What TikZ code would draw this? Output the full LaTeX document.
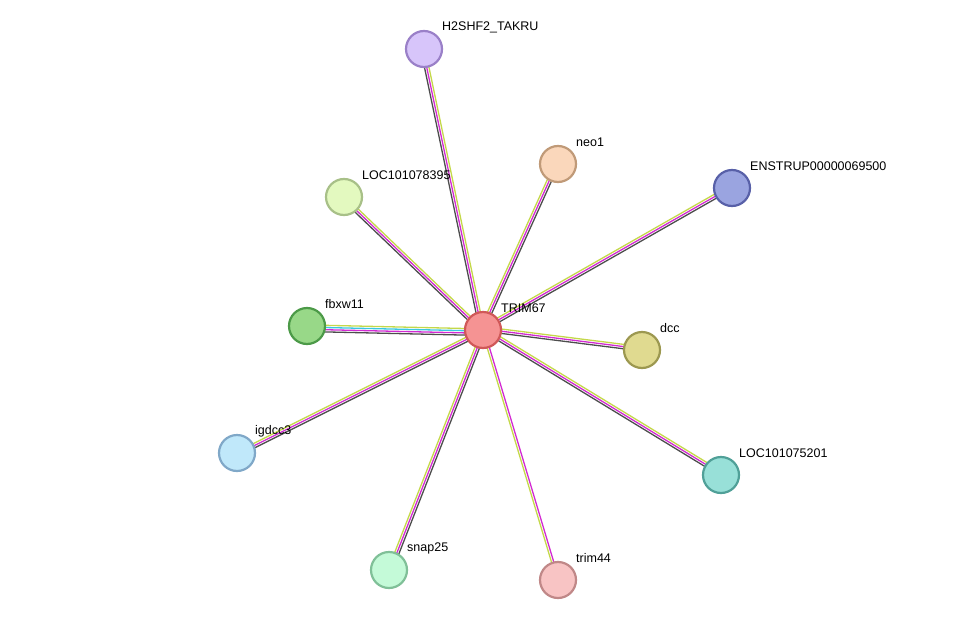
\documentclass[tikz,border=0pt]{standalone}
\usepackage{fontspec}
\setmainfont{Liberation Sans}
\usetikzlibrary{calc}
\definecolor{edark}{HTML}{4D4D4D}
\definecolor{emag}{HTML}{D22AD2}
\definecolor{egrn}{HTML}{C4D84A}
\definecolor{ecyan}{HTML}{38C8E0}
\tikzset{prot/.style={circle, minimum size=36pt, inner sep=0pt, line width=2.2pt},
  plabel/.style={anchor=west, font=\fontsize{12.5}{14}\selectfont, inner sep=0pt}}
\begin{document}
\begin{tikzpicture}[x=1pt,y=-1pt]
\useasboundingbox (0,0) rectangle (976,626);
% proteins
\coordinate (TRIM67) at (483,330);
\coordinate (H2SHF2) at (424,49);
\coordinate (neo1) at (558,164);
\coordinate (ENSTRUP) at (732,188);
\coordinate (LOC395) at (344,197);
\coordinate (fbxw11) at (307,326);
\coordinate (dcc) at (642,350);
\coordinate (igdcc3) at (237,453);
\coordinate (LOC201) at (721,475);
\coordinate (snap25) at (389,570);
\coordinate (trim44) at (558,580);
% evidence lines
\foreach \t/\cols in {H2SHF2/{egrn,emag,edark}, neo1/{edark,emag,egrn}, ENSTRUP/{edark,emag,egrn},
  LOC395/{egrn,emag,edark}, fbxw11/{egrn,ecyan,emag,edark}, dcc/{edark,emag,egrn},
  igdcc3/{egrn,emag,edark}, LOC201/{edark,emag,egrn}, snap25/{egrn,emag,edark}, trim44/{egrn,emag}}{
  \foreach \c [count=\i] in \cols {
    \pgfmathsetmacro{\off}{(\i-1)*2.2-1.1}
    \draw[\c, line width=1.3pt] ($(TRIM67)!\off pt!90:(\t)$) -- ($(\t)!\off pt!-90:(TRIM67)$);
  }
}
\foreach \n/\f/\d/\txt in {TRIM67/F59393/D05858/TRIM67, H2SHF2/D7C5FA/9A80C8/H2SHF2\_TAKRU,
  neo1/FAD7BB/C09A78/neo1, ENSTRUP/9AA4E0/5860A8/ENSTRUP00000069500,
  LOC395/E3F9BF/A8C088/LOC101078395, fbxw11/98D888/4C9A48/fbxw11,
  dcc/E0DA90/9C9850/dcc, igdcc3/C0E8FA/80A8C8/igdcc3, LOC201/98E0D8/50A098/LOC101075201,
  snap25/C4FAD8/80C098/snap25, trim44/F8C4C4/C08888/trim44}{
  \definecolor{nf}{HTML}{\f}\definecolor{nd}{HTML}{\d}
  \node[prot, fill=nf, draw=nd] (\n-c) at (\n) {};
  \node[plabel] (\n-l) at ($(\n)+(18,-22)$) {\txt};
}
\end{tikzpicture}
\end{document}
